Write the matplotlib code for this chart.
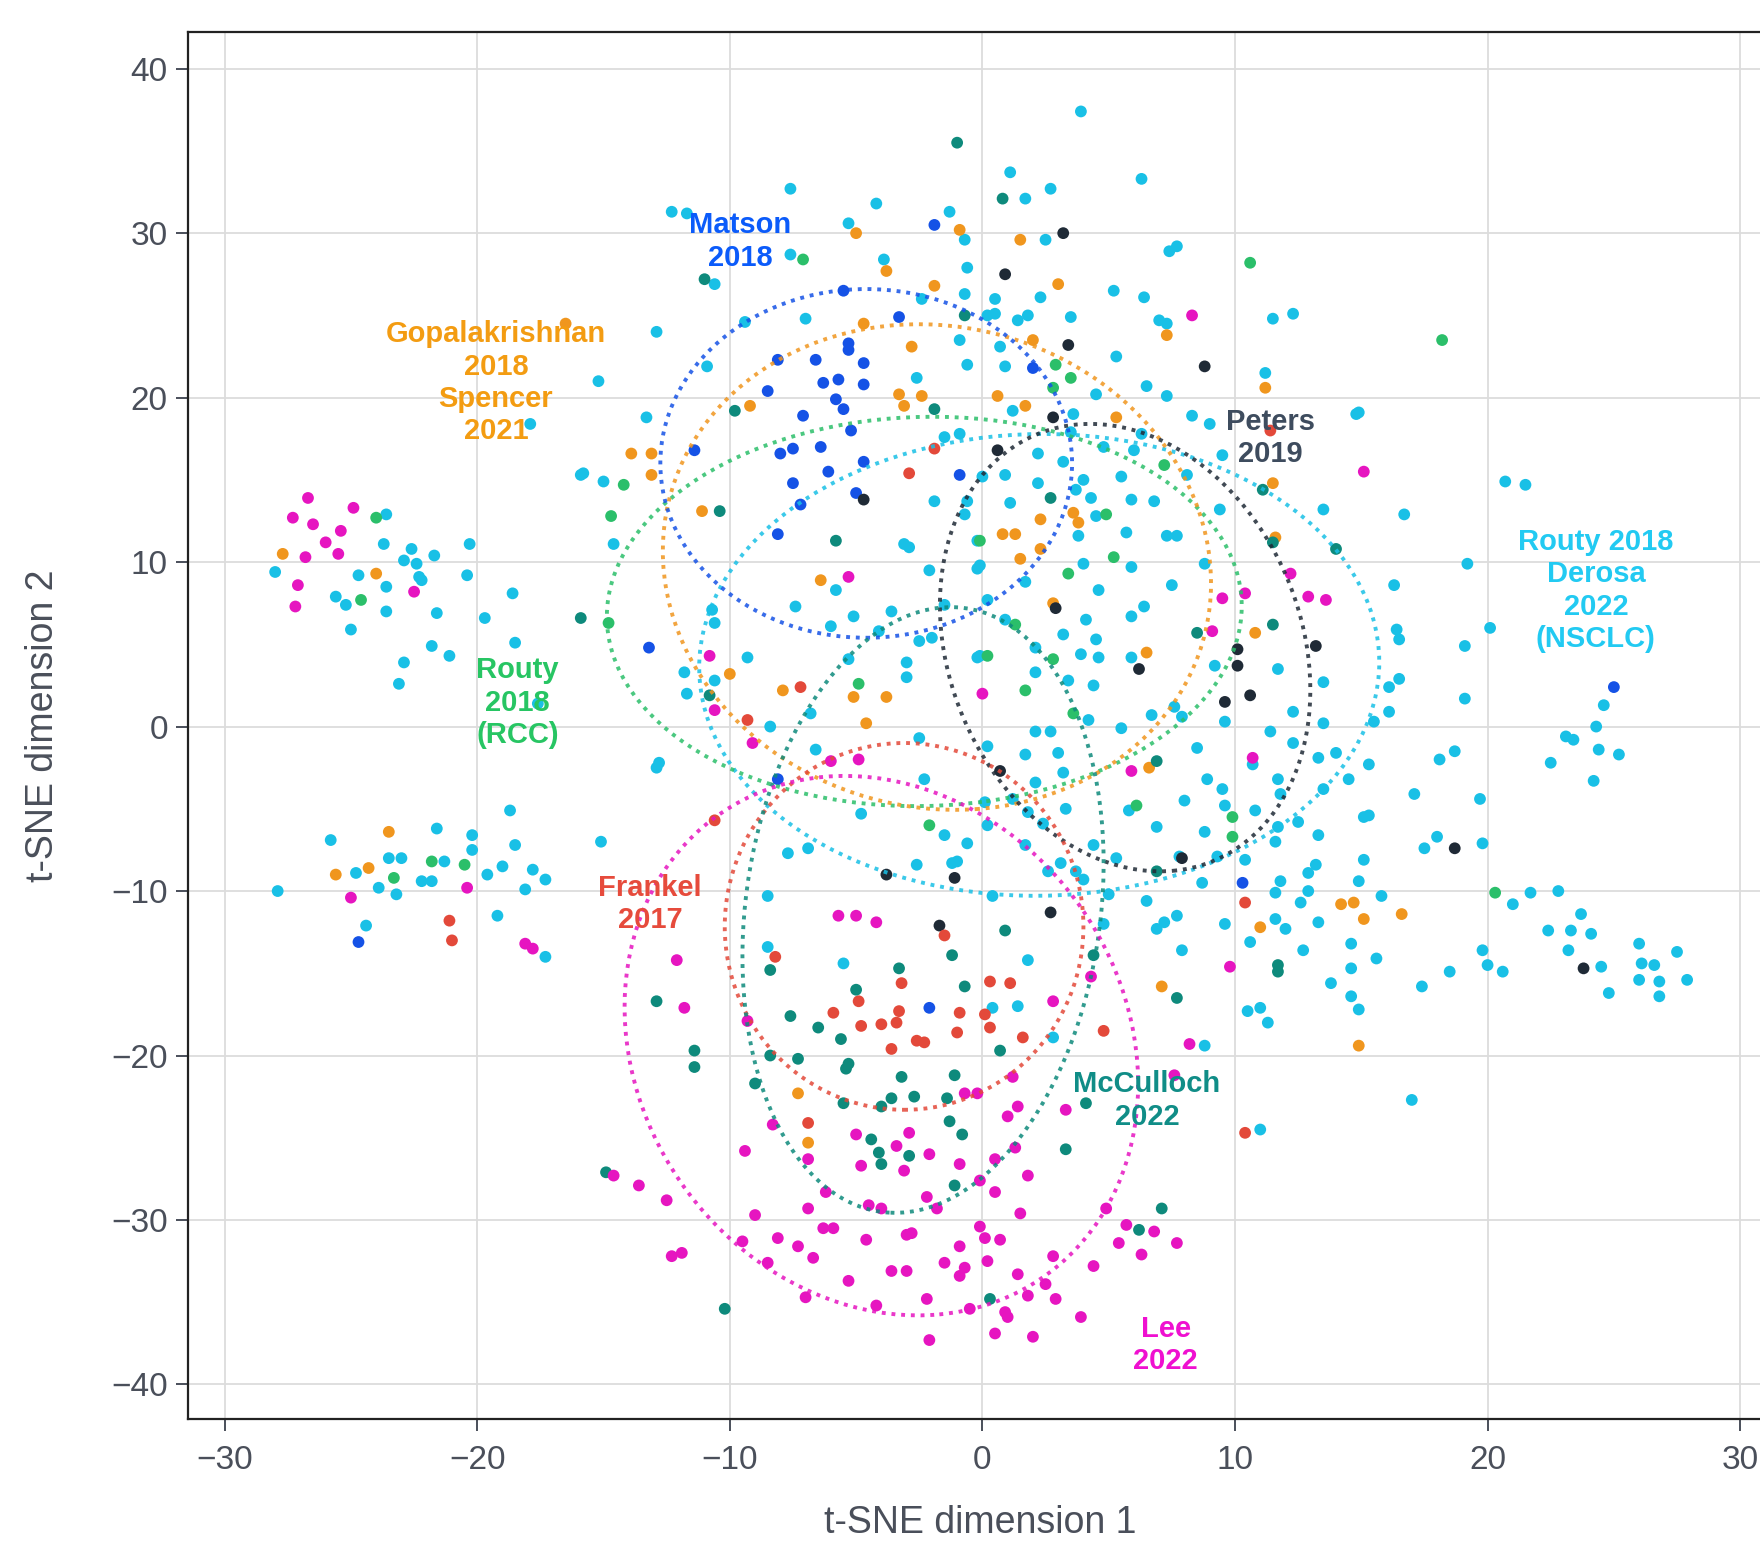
import numpy as np
import matplotlib.pyplot as plt
from matplotlib.patches import Ellipse

# fonts (Arial-like)
plt.rcParams["font.family"] = ["Liberation Sans", "DejaVu Sans"]

# ---- t-SNE coordinates per study ----
nsclc_pts = [
    (-17.9, 18.4), (-15.9, 15.3),
    (-7.6, 32.7), (-4.2, 31.8), (-1.3, 31.3), (-12.3, 31.3), (-11.7, 31.2), (-5.3, 30.6), (-0.7, 29.6),
    (-7.6, 28.7), (-3.9, 28.4), (-0.6, 27.9), (-10.6, 26.9), (-0.7, 26.3), (-2.4, 26.0), (-12.9, 24.0),
    (-9.4, 24.6), (-7.0, 24.8), (-0.9, 23.5), (-10.9, 21.9), (-0.6, 22.0), (-15.2, 21.0), (-2.6, 21.2),
    (-13.3, 18.8), (-1.5, 17.6), (-0.9, 17.8), (-15.8, 15.4), (-15.0, 14.9),
    (3.9, 37.4), (1.1, 33.7), (6.3, 33.3), (2.7, 32.7), (1.7, 32.1), (2.5, 29.6), (7.4, 28.9), (7.7, 29.2),
    (0.5, 26.0), (2.3, 26.1), (5.2, 26.5), (6.4, 26.1), (0.2, 25.0), (0.5, 25.1), (1.4, 24.7), (1.8, 25.0),
    (3.5, 24.9), (7.0, 24.7), (7.3, 24.5), (11.5, 24.8), (12.3, 25.1), (0.7, 23.1), (5.3, 22.5), (11.2, 21.5),
    (0.9, 21.9), (6.5, 20.7), (7.3, 20.1), (1.2, 19.2), (4.5, 20.2), (14.8, 19.0), (14.9, 19.1), (3.6, 19.0),
    (8.3, 18.9), (9.0, 18.4), (6.3, 17.8), (3.5, 17.9), (2.2, 16.6), (4.8, 17.0), (6.0, 16.8), (8.1, 15.3),
    (9.5, 16.5), (3.2, 16.1), (0.9, 15.3), (2.2, 14.8), (4.0, 15.0), (3.7, 14.4), (5.5, 15.2), (0.0, 15.2),
    (20.7, 14.9), (21.5, 14.7),
    (-23.6, 12.9), (-23.7, 11.1), (-20.3, 11.1), (-22.6, 10.8), (-21.7, 10.4), (-22.9, 10.1), (-22.4, 9.9),
    (-28.0, 9.4), (-24.7, 9.2), (-20.4, 9.2), (-22.3, 9.1), (-22.2, 8.9), (-23.6, 8.5), (-25.6, 7.9),
    (-25.2, 7.4), (-23.6, 7.0), (-18.6, 8.1), (-21.6, 6.9), (-19.7, 6.6), (-25.0, 5.9), (-18.5, 5.1),
    (-21.8, 4.9), (-21.1, 4.3), (-22.9, 3.9), (-23.1, 2.6), (-17.6, 1.4),
    (-18.7, -5.1), (-21.6, -6.2), (-25.8, -6.9), (-20.2, -6.6), (-18.5, -7.2), (-20.2, -7.5), (-23.5, -8.0),
    (-23.0, -8.0), (-21.3, -8.2), (-19.0, -8.5), (-17.8, -8.7), (-17.3, -9.3), (-19.6, -9.0), (-24.8, -8.9),
    (-22.2, -9.4), (-21.8, -9.4), (-23.9, -9.8), (-23.2, -10.2), (-18.1, -9.9), (-27.9, -10.0), (-19.2, -11.5),
    (-24.4, -12.1), (-17.3, -14.0),
    (-14.6, 11.1), (-1.9, 13.7), (-3.1, 11.1), (-2.9, 10.9), (-2.1, 9.5), (-5.8, 8.3), (-7.4, 7.3), (-5.1, 6.7),
    (-3.6, 7.0), (-10.7, 7.1), (-10.6, 6.3), (-6.0, 6.1), (-4.1, 5.8), (-2.5, 5.2), (-2.0, 5.4), (-9.3, 4.2),
    (-5.3, 4.1), (-3.0, 3.9), (-3.0, 3.0), (-11.8, 3.3), (-10.6, 2.8), (-11.7, 2.0), (-6.8, 0.8), (-8.4, 0.0),
    (-2.5, -0.7), (-6.6, -1.4), (-12.8, -2.2), (-12.9, -2.5), (-2.3, -3.2), (-4.8, -5.3), (-1.5, -6.6),
    (-0.6, -7.1), (-15.1, -7.0), (-7.7, -7.7), (-6.9, -7.4), (-2.6, -8.4), (-1.2, -8.3), (-1.0, -8.2),
    (-8.5, -10.3), (-8.5, -13.4), (-5.5, -14.4), (-0.7, 12.9), (-0.6, 13.7), (-0.2, 11.3), (-0.2, 9.6),
    (-0.2, 4.2), (-1.5, 7.4),
    (1.1, 13.6), (4.3, 13.9), (5.9, 13.8), (6.8, 13.7), (13.5, 13.2), (4.5, 12.8), (3.8, 11.6), (5.7, 11.8),
    (7.3, 11.6), (7.7, 11.6), (9.4, 13.2), (-0.1, 9.8), (4.0, 9.9), (5.9, 9.7), (8.8, 9.9), (1.7, 8.8),
    (7.5, 8.6), (4.6, 8.3), (0.2, 7.7), (6.4, 7.3), (5.9, 6.7), (0.9, 6.5), (4.1, 6.5), (3.2, 5.6), (4.5, 5.3),
    (-0.1, 4.3), (2.1, 4.8), (3.9, 4.4), (4.6, 4.2), (5.9, 4.2), (9.2, 3.7), (11.7, 3.5), (2.1, 3.3), (3.4, 2.8),
    (4.4, 2.5), (13.5, 2.7), (7.6, 1.2), (7.9, 0.6), (6.7, 0.7), (12.3, 0.9), (4.2, 0.4), (9.6, 0.3),
    (13.5, 0.2), (2.1, -0.3), (2.7, -0.3), (5.5, -0.1), (11.4, -0.3), (0.2, -1.2), (1.7, -1.7), (3.0, -1.6),
    (8.5, -1.3), (12.3, -1.0), (10.7, -2.3), (13.3, -1.9), (14.0, -1.6), (3.2, -2.8), (2.1, -3.4), (8.9, -3.2),
    (11.7, -3.2), (13.5, -3.8), (14.5, -3.2), (9.5, -3.8), (0.1, -4.6), (1.2, -4.4), (3.3, -5.0), (11.8, -4.1),
    (8.0, -4.5), (9.6, -4.8), (5.8, -5.1), (1.8, -5.2), (10.8, -5.1), (12.5, -5.8), (15.1, -5.5), (15.3, -5.4),
    (0.2, -6.0), (2.4, -5.9), (6.9, -6.1), (8.8, -6.4), (11.7, -6.1), (13.3, -6.6), (1.7, -7.2), (4.4, -7.2),
    (11.6, -7.0), (7.8, -7.9), (9.3, -7.9), (5.3, -8.0), (10.4, -8.1), (12.9, -8.9), (13.2, -8.4), (15.1, -8.1),
    (2.6, -8.8), (3.1, -8.3), (3.7, -8.8), (8.7, -9.5), (11.8, -9.4), (14.9, -9.4), (4.0, -9.3), (0.4, -10.3),
    (5.0, -10.2), (6.5, -10.6), (11.6, -10.1), (12.9, -10.0), (12.6, -10.7), (4.8, -12.0), (7.2, -11.9),
    (7.7, -11.5), (6.9, -12.3), (9.6, -12.0), (11.6, -11.7), (12.0, -12.3), (13.3, -11.9), (10.6, -13.1),
    (12.7, -13.6), (14.6, -13.2), (7.9, -13.6), (1.8, -14.2), (14.6, -14.7), (15.5, 0.3),
    (16.7, 12.9), (19.2, 9.9), (16.3, 8.6), (20.1, 6.0), (16.4, 5.9), (16.5, 5.3), (19.1, 4.9), (16.5, 2.9),
    (16.1, 2.4), (19.1, 1.7), (16.1, 0.9), (24.6, 1.3), (24.3, 0.0), (23.1, -0.6), (23.4, -0.8), (24.4, -1.4),
    (25.2, -1.7), (22.5, -2.2), (24.2, -3.3), (18.1, -2.0), (18.7, -1.5), (15.3, -2.3), (17.1, -4.1),
    (19.7, -4.4), (18.0, -6.7), (17.5, -7.4), (19.8, -7.1), (15.8, -10.3), (21.7, -10.1), (22.8, -10.0),
    (21.0, -10.8), (23.7, -11.4), (22.4, -12.4), (23.3, -12.4), (24.1, -12.6), (23.2, -13.6), (19.8, -13.6),
    (20.0, -14.5), (15.6, -14.1), (26.0, -13.2), (27.5, -13.7), (26.1, -14.4), (26.6, -14.5), (24.5, -14.6),
    (20.6, -14.9), (18.5, -14.9),
    (17.4, -15.8), (24.8, -16.2), (26.0, -15.4), (26.8, -15.5), (27.9, -15.4), (26.8, -16.4), (17.0, -22.7),
    (13.8, -15.6), (14.6, -16.4), (14.9, -17.2), (10.5, -17.3), (11.0, -17.1), (11.3, -18.0), (0.4, -17.1),
    (1.4, -17.0), (2.8, -18.9), (8.8, -19.4), (11.0, -24.5),
]

rcc_pts = [
    (-7.1, 28.4), (-14.2, 14.7), (10.6, 28.2), (2.9, 22.0), (3.5, 21.2), (2.8, 20.6), (7.2, 15.9),
    (18.2, 23.5), (-24.0, 12.7), (-24.6, 7.7), (-21.8, -8.2), (-20.5, -8.4), (-23.3, -9.2),
    (-14.7, 12.8), (-14.8, 6.3), (-4.9, 2.6), (-2.1, -6.0),
    (4.9, 12.9), (-0.1, 11.3), (5.2, 10.3), (3.4, 9.3), (1.3, 6.2), (0.2, 4.3), (2.8, 4.1), (1.7, 2.2),
    (3.6, 0.8), (6.1, -4.8), (9.9, -5.5), (9.9, -6.7), (20.3, -10.1),
]

gopal_pts = [
    (-16.5, 24.5), (-0.9, 30.2), (-5.0, 30.0), (-3.8, 27.7), (-1.9, 26.8), (-4.7, 24.5), (-2.8, 23.1),
    (-3.3, 20.2), (-2.4, 20.1), (-3.1, 19.5), (-9.2, 19.5), (-13.9, 16.6), (-13.1, 16.6), (-13.1, 15.3),
    (1.5, 29.6), (3.0, 26.9), (7.3, 23.8), (2.0, 23.5), (11.2, 20.6), (0.6, 20.1), (1.7, 19.5), (5.3, 18.8),
    (11.5, 14.8), (-27.7, 10.5), (-24.0, 9.3), (-23.5, -6.4), (-25.6, -9.0), (-24.3, -8.6),
    (-11.1, 13.1), (-6.4, 8.9), (-10.0, 3.2), (-7.9, 2.2), (-5.1, 1.8), (-3.8, 1.8), (-4.6, 0.2),
    (2.3, 12.6), (3.6, 13.0), (3.8, 12.4), (0.8, 11.7), (1.3, 11.7), (11.6, 11.5), (1.5, 10.2), (2.3, 10.8),
    (2.8, 7.5), (10.8, 5.7), (6.5, 4.5), (6.6, -2.5), (14.2, -10.8), (14.7, -10.7), (15.1, -11.7),
    (11.0, -12.2), (16.6, -11.4), (-7.3, -22.3), (-6.9, -25.3), (7.1, -15.8), (14.9, -19.4),
]

matson_pts = [
    (-1.9, 30.5), (-5.5, 26.5), (-3.3, 24.9), (-5.3, 23.3), (-5.3, 22.9), (-8.1, 22.3), (-6.6, 22.3),
    (-4.7, 22.1), (-5.7, 21.1), (-6.3, 20.9), (-4.7, 20.8), (-8.5, 20.4), (-5.8, 19.9), (-5.5, 19.3),
    (-7.1, 18.9), (-5.2, 18.0), (-11.4, 16.8), (-8.0, 16.6), (-7.5, 16.9), (-6.4, 17.0), (-6.1, 15.5),
    (-4.7, 16.1), (-0.9, 15.3), (-7.5, 14.8), (-5.0, 14.2), (2.0, 21.8), (-24.7, -13.1),
    (-7.2, 13.5), (-8.1, 11.7), (-13.2, 4.8), (-8.1, -3.2), (10.3, -9.5), (25.0, 2.4), (-2.1, -17.1),
]

peters_pts = [
    (3.2, 30.0), (0.9, 27.5), (3.4, 23.2), (8.8, 21.9), (2.8, 18.8), (0.6, 16.8), (-4.7, 13.8), (2.9, 7.2),
    (6.2, 3.5), (10.1, 3.7), (10.1, 4.7), (13.2, 4.9), (9.6, 1.5), (10.6, 1.9), (0.7, -2.7), (7.9, -8.0),
    (2.7, -11.3), (-3.8, -9.0), (-1.1, -9.2), (-1.7, -12.1), (18.7, -7.4), (23.8, -14.7),
]

frankel_pts = [
    (-1.9, 16.9), (-2.9, 15.4), (11.4, 18.0), (-21.1, -11.8), (-21.0, -13.0),
    (-7.2, 2.4), (-9.3, 0.4), (-10.6, -5.7), (-1.5, -12.7), (-8.2, -14.0), (10.4, -10.7),
    (-3.2, -15.6), (-4.9, -16.7), (-0.9, -17.4), (-1.0, -18.6), (-5.9, -17.4), (-3.3, -17.3), (-4.8, -18.2),
    (-4.0, -18.1), (-3.4, -18.0), (-3.6, -19.6), (-2.6, -19.1), (-2.3, -19.2), (-6.9, -24.1),
    (0.3, -15.5), (1.1, -15.6), (0.1, -17.5), (0.3, -18.3), (1.6, -18.9), (4.8, -18.5), (10.4, -24.7),
]

mcculloch_pts = [
    (-1.0, 35.5), (-11.0, 27.2), (-0.7, 25.0), (-9.8, 19.2), (-1.9, 19.3), (0.8, 32.1), (11.1, 14.4),
    (-15.9, 6.6), (-10.4, 13.1), (-5.8, 11.3), (-10.8, 1.9), (-1.2, -13.9), (-3.3, -14.7), (-8.4, -14.8),
    (2.7, 13.9), (11.5, 11.2), (14.0, 10.8), (11.5, 6.2), (8.5, 5.7), (6.9, -2.1), (6.9, -8.8), (0.9, -12.4),
    (4.4, -13.9), (11.7, -14.5), (11.7, -14.9),
    (-0.7, -15.8), (-5.0, -16.0), (-12.9, -16.7), (-7.6, -17.6), (-6.5, -18.3), (-5.6, -19.0), (-11.4, -19.7),
    (-11.4, -20.7), (-8.4, -20.0), (-7.3, -20.2), (-5.3, -20.5), (-5.4, -20.8), (-9.0, -21.7), (-3.2, -21.3),
    (-1.1, -21.2), (-5.5, -22.9), (-4.0, -23.1), (-3.6, -22.6), (-2.7, -22.5), (-1.4, -22.6), (-1.3, -24.0),
    (-0.8, -24.8), (-4.4, -25.1), (-4.1, -25.9), (-4.0, -26.6), (-2.9, -26.1), (-1.1, -27.9), (-14.9, -27.1),
    (-10.2, -35.4), (7.7, -16.5), (0.7, -19.7), (4.1, -22.9), (3.3, -25.7), (7.1, -29.3), (6.2, -30.6),
    (0.3, -34.8),
]

lee_pts = [
    (8.3, 25.0), (15.1, 15.5),
    (-26.7, 13.9), (-24.9, 13.3), (-27.3, 12.7), (-26.5, 12.3), (-25.4, 11.9), (-26.0, 11.2), (-25.5, 10.5),
    (-26.8, 10.3), (-22.5, 8.2), (-27.1, 8.6), (-27.2, 7.3), (-20.4, -9.8), (-25.0, -10.4), (-18.1, -13.2),
    (-17.8, -13.5),
    (-5.3, 9.1), (-10.8, 4.3), (-10.6, 1.0), (-9.1, -1.0), (-6.0, -2.1), (-4.9, -2.0), (-5.7, -11.5),
    (-5.0, -11.5), (-4.2, -11.9), (-12.1, -14.2),
    (9.5, 7.8), (10.4, 8.1), (12.2, 9.3), (12.9, 7.9), (13.6, 7.7), (9.1, 5.8), (0.0, 2.0), (10.7, -1.9),
    (5.9, -2.7), (9.8, -14.6),
    (-11.8, -17.1), (-9.3, -17.9), (-0.7, -22.3), (-0.2, -22.3), (-8.3, -24.2), (-5.0, -24.8), (-2.9, -24.7),
    (-3.4, -25.5), (-2.1, -26.0), (-9.4, -25.8), (-4.8, -26.7), (-3.1, -27.0), (-0.9, -26.6), (-6.9, -26.3),
    (-14.6, -27.3), (-13.6, -27.9), (-12.5, -28.8), (-6.2, -28.3), (-2.2, -28.6), (-4.5, -29.1), (-4.0, -29.3),
    (-1.8, -29.3), (-6.9, -29.3), (-9.0, -29.7), (-6.3, -30.5), (-5.9, -30.5), (-3.0, -30.9), (-2.8, -30.8),
    (-9.5, -31.3), (-8.1, -31.1), (-7.3, -31.6), (-6.7, -32.3), (-4.6, -31.2), (-0.9, -31.6), (-8.5, -32.6),
    (-12.3, -32.2), (-11.9, -32.0), (-1.5, -32.6), (-0.7, -32.9), (-0.9, -33.4), (-3.6, -33.1), (-3.0, -33.1),
    (-5.3, -33.7), (-7.0, -34.7), (-2.2, -34.8), (-4.2, -35.2), (-0.5, -35.4), (-2.1, -37.3),
    (4.3, -15.2), (2.8, -16.7), (8.2, -19.3), (1.2, -21.3), (7.6, -21.2), (1.0, -23.7), (1.4, -23.1),
    (3.3, -23.3), (1.3, -25.6), (0.5, -26.3), (-0.1, -27.6), (1.8, -27.3), (0.5, -28.3), (1.5, -29.6),
    (4.9, -29.3), (5.7, -30.3), (6.8, -30.7), (-0.1, -30.4), (0.1, -31.1), (0.7, -31.2), (5.4, -31.4),
    (7.7, -31.4), (6.3, -32.1), (0.2, -32.5), (2.8, -32.2), (1.4, -33.3), (4.4, -32.8), (2.5, -33.9),
    (1.8, -34.6), (2.9, -34.8), (0.9, -35.6), (1.0, -35.9), (3.9, -35.9), (0.5, -36.9), (2.0, -37.1),
]

# study order used for colours, ellipses and labels
group_pts = [nsclc_pts, rcc_pts, gopal_pts, matson_pts, peters_pts, frankel_pts, mcculloch_pts, lee_pts]
point_colors = ["#19C0E6", "#2BBF6A", "#F0961E", "#1552E6", "#1F2A36", "#E3493A", "#0E8A7C", "#E615C0"]
text_colors = ["#22CAF2", "#27C563", "#F39C12", "#0B5BFA", "#3E4C5E", "#E64B3C", "#108D87", "#EF10D0"]

# ellipse centre / full width / full height / angle (data units)
ell_cx = [2.25, -2.3, -1.8, -4.6, 5.65, -3.1, -2.35, -4.0]
ell_cy = [3.75, 7.0, 9.7, 16.0, 4.8, -12.15, -11.15, -19.4]
ell_w = [26.9, 25.2, 21.6, 16.3, 14.3, 14.2, 14.1, 20.0]
ell_h = [28.1, 23.6, 29.6, 21.2, 27.4, 22.3, 36.9, 33.0]
ell_angle = [-8, 12, 6, 0, 8, 0, -4, 8]

# study labels
label_text = ["Routy 2018\nDerosa\n2022\n(NSCLC)", "Routy\n2018\n(RCC)", "Gopalakrishnan\n2018\nSpencer\n2021",
              "Matson\n2018", "Peters\n2019", "Frankel\n2017", "McCulloch\n2022", "Lee\n2022"]
label_x = [24.29, -18.4, -19.26, -9.6, 11.4, -13.16, 6.51, 7.26]
label_y = [8.27, 1.44, 20.9, 29.5, 17.55, -10.77, -22.74, -37.6]

tick_color = "#4a4f5a"

fig = plt.figure(figsize=(17.6, 15.43), dpi=100)
ax = fig.add_axes([0.10682, 0.08036, 0.9020, 0.8989])

# points
for pts, c in zip(group_pts, point_colors):
    arr = np.array(pts)
    ax.scatter(arr[:, 0], arr[:, 1], s=72, color=c, edgecolors="none", zorder=3)

# dotted ellipses
for i in range(len(ell_cx)):
    e = Ellipse((ell_cx[i], ell_cy[i]), ell_w[i], ell_h[i], angle=ell_angle[i],
                fill=False, edgecolor=point_colors[i], linewidth=2.8,
                linestyle=(0, (1.0, 1.5)), alpha=0.85, zorder=4)
    ax.add_patch(e)

# labels
for t, x, y, c in zip(label_text, label_x, label_y, text_colors):
    ax.text(x, y, t, color=c, fontsize=21, fontweight="bold", ha="center", va="center",
            linespacing=1.2, zorder=6)

# axes styling
ax.set_xlim(-31.45, 31.4)
ax.set_ylim(-42.1, 42.23)
ax.set_xticks(np.arange(-30, 31, 10))
ax.set_yticks(np.arange(-40, 41, 10))
ax.grid(True, color="#dcdcdc", linewidth=1.3, zorder=0)
ax.set_axisbelow(True)
ax.tick_params(axis="both", labelsize=24, colors=tick_color, length=8.5, width=1.4)
ax.tick_params(axis="x", pad=10)
ax.tick_params(axis="y", pad=6)
for side in ["left", "top", "bottom"]:
    ax.spines[side].set_linewidth(1.6)
    ax.spines[side].set_color("#222222")
ax.spines["right"].set_visible(False)

# axis titles
fig.text(980 / 1760, 1 - 1523 / 1543, "t-SNE dimension 1", fontsize=27, color=tick_color,
         ha="center", va="center")
fig.text(43 / 1760, 1 - 726 / 1543, "t-SNE dimension 2", fontsize=27, color=tick_color,
         ha="center", va="center", rotation=90)

fig.savefig("out.png", dpi=100)
